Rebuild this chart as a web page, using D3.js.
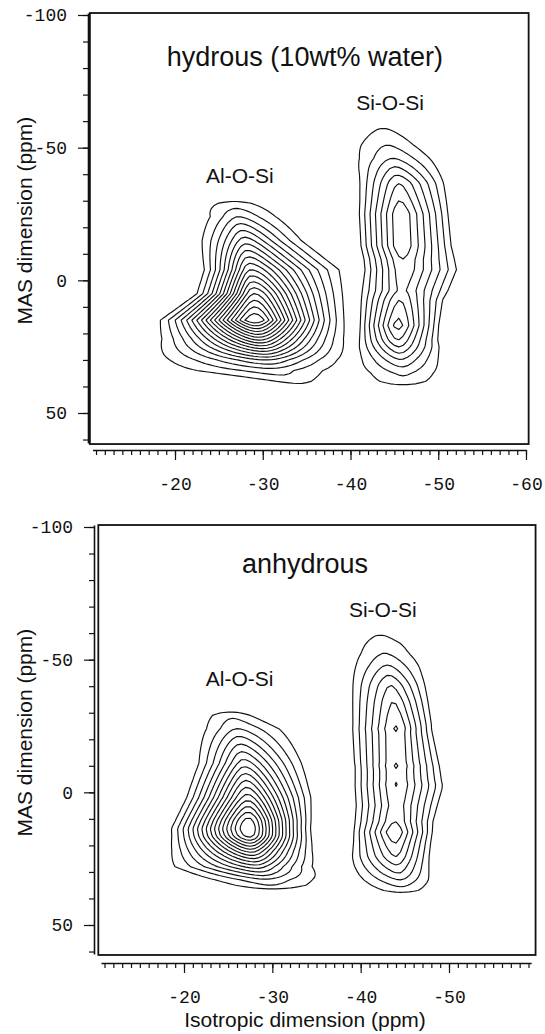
<!DOCTYPE html>
<html>
<head>
<meta charset="utf-8">
<script src="https://cdn.jsdelivr.net/npm/d3@7"></script>
<style>
  body { margin: 0; background: #fff; }
  svg { display: block; }
</style>
</head>
<body>
<svg id="chart" width="545" height="1034"></svg>
<script>
// contour levels, same for both spectra
const contourLevels = [1, 2, 3, 4, 5, 6, 7, 8, 9, 10, 11, 12, 13, 14, 15, 16, 17, 18]

const yMajorTicks = [-100, -50, 0, 50]
const yMinorTicks = [-100, -90, -80, -70, -60, -50, -40, -30, -20, -10, 0, 10, 20, 30, 40, 50, 60]
const hydrousXTicks = [-20, -30, -40, -50, -60]
const anhydrousXTicks = [-20, -30, -40, -50]

// ridge of each peak:
// [MAS ppm, peak height (in contour steps), ridge centre iso ppm, half-width toward -10, half-width toward -60]
const hydrousAlOSi = [
  [-31.5, 0, -26.5, 7, 7],
  [-29, 1.4, -26.8, 7, 7],
  [-24, 3.0, -27.2, 5.6, 7.5],
  [-15, 6.5, -28.0, 6.6, 8.6],
  [-4, 11, -28.6, 6.4, 12.3],
  [5, 15, -29.0, 7.6, 11.8],
  [15, 19, -29.1, 12.3, 11.6],
  [22, 12.5, -29.6, 13.3, 11.5],
  [30, 5, -30.5, 16, 11.5],
  [34, 2.5, -31.2, 17, 11],
  [38.5, 1.2, -34, 8, 7],
  [41, 0, -35, 5, 5]
]

const hydrousSiOSi = [
  [-61, 0, -43.5, 4, 4],
  [-57.4, 1.0, -43.7, 4.5, 4.5],
  [-51, 2.0, -44.2, 5.4, 5.4],
  [-46, 3.0, -44.8, 5.4, 6.0],
  [-39.7, 5.0, -45.3, 5.2, 6.0],
  [-36.6, 6.0, -45.5, 5.2, 6.0],
  [-30, 7.0, -45.6, 5.2, 6.1],
  [-25, 7.8, -45.7, 5.3, 6.1],
  [-13, 7.8, -45.8, 5.2, 6.4],
  [-8, 7.0, -45.9, 5.0, 6.8],
  [-4, 6.75, -46.0, 5.0, 7.0],
  [3.8, 6.2, -45.8, 5.2, 6.2],
  [7.4, 7.0, -45.6, 5.0, 5.6],
  [17, 8.4, -45.4, 4.8, 5.2],
  [22.5, 7.0, -45.4, 5.0, 5.2],
  [25.1, 6.0, -45.5, 5.2, 5.4],
  [27.5, 5.0, -45.6, 5.3, 5.4],
  [29.8, 4.0, -45.7, 5.5, 5.5],
  [32.6, 3.0, -45.9, 6.0, 5.6],
  [35, 2.2, -46.0, 6.2, 5.8],
  [38.5, 1.5, -46.0, 6.2, 6.0],
  [41, 0, -46.0, 5, 5]
]

const anhydrousAlOSi = [
  [-31.5, 0, -25.3, 5, 5],
  [-29.5, 1.6, -25.25, 5.1, 5.1],
  [-24, 3.0, -26.0, 5.6, 7.7],
  [-11, 7.5, -26.8, 6.3, 8],
  [2, 12.5, -27.2, 7.9, 8.2],
  [10.5, 16.4, -27.3, 9.2, 7.9],
  [13.6, 16.95, -27.3, 9.7, 7.8],
  [16.5, 16.4, -27.4, 9.8, 7.8],
  [22, 11.5, -27.6, 10.4, 8],
  [28, 6.5, -28.2, 11.7, 8],
  [33, 2.8, -29.3, 9.7, 8.8],
  [35.5, 1.8, -30, 8.2, 8.2],
  [37.5, 0, -30, 6, 6]
]

const anhydrousSiOSi = [
  [-62, 0, -42, 4, 4],
  [-59.4, 1.0, -42.2, 4.5, 4.5],
  [-56, 1.5, -42.5, 4.8, 5.1],
  [-52.4, 2.0, -42.7, 4.8, 5.0],
  [-48, 3.0, -43.0, 5.0, 5.0],
  [-44.2, 4.0, -43.2, 5.1, 4.8],
  [-40.4, 5.0, -43.4, 5.2, 4.7],
  [-34.2, 6.0, -43.7, 5.4, 4.6],
  [-25.5, 6.95, -44.0, 5.6, 4.6],
  [-24, 7.12, -44.0, 5.6, 4.6],
  [-22.5, 6.95, -44.0, 5.6, 4.7],
  [-11.5, 6.95, -44.0, 5.4, 5.5],
  [-10, 7.1, -44.0, 5.3, 5.6],
  [-8.5, 6.95, -44.0, 5.3, 5.7],
  [-4.5, 6.95, -44.0, 5.3, 5.9],
  [-3, 7.05, -44.0, 5.3, 6.0],
  [-1.5, 6.95, -44.0, 5.3, 6.0],
  [5, 6.6, -44.0, 5.2, 5.4],
  [11.1, 7.0, -43.9, 5.2, 4.9],
  [15, 7.9, -43.85, 5.2, 4.8],
  [19.2, 7.0, -43.9, 5.4, 4.6],
  [24.3, 6.0, -44.0, 5.8, 4.4],
  [27.4, 5.0, -44.1, 5.9, 4.4],
  [30.5, 4.0, -44.3, 5.9, 4.4],
  [33, 3.0, -44.5, 5.9, 4.5],
  [35.6, 2.0, -44.6, 5.5, 4.5],
  [37.2, 1.4, -44.6, 5, 5],
  [39, 0, -44.6, 4, 4]
]

// exponent of the fall-off across each ridge (1 = straight cone)
const hydrousRidges = [{ rows: hydrousAlOSi, fall: 1.5 }, { rows: hydrousSiOSi, fall: 1 }]
const anhydrousRidges = [{ rows: anhydrousAlOSi, fall: 1.3 }, { rows: anhydrousSiOSi, fall: 1 }]

const hydrousLabels = [
  { text: 'hydrous (10wt% water)', iso: -34.8, mas: -80.8, size: 27 },
  { text: 'Si-O-Si', iso: -44.5, mas: -64.2, size: 21 },
  { text: 'Al-O-Si', iso: -27.4, mas: -36.7, size: 21 }
]

const anhydrousLabels = [
  { text: 'anhydrous', iso: -33.7, mas: -82.8, size: 27 },
  { text: 'Si-O-Si', iso: -42.5, mas: -66.1, size: 21 },
  { text: 'Al-O-Si', iso: -26.3, mas: -40.1, size: 21 }
]

let settings = {
  sans: "'Liberation Sans', Arial, sans-serif",
  mono: "'Liberation Mono', 'Courier New', monospace",
  grid: { iso0: -9, isoStep: 0.5, nx: 107, mas0: -104, masStep: 1, ny: 171 },
  tipRound: 0.12
}

const panels = [
  {
    ridges: hydrousRidges, labels: hydrousLabels, xTicks: hydrousXTicks,
    x: d3.scaleLinear().domain([-20, -60]).range([175, 526]),
    y: d3.scaleLinear().domain([-100, 50]).range([15, 413]),
    frameIso: [-10.3, -60.3], frameMas: [-100.75, 61.7],
    axisIso: [-10.6, -60], axisMas: [-100.75, 61.3],
    yAxisX: 88, xAxisY: 450, showIsoTitle: false
  },
  {
    ridges: anhydrousRidges, labels: anhydrousLabels, xTicks: anhydrousXTicks,
    x: d3.scaleLinear().domain([-20, -50]).range([184, 449]),
    y: d3.scaleLinear().domain([-100, 50]).range([527, 925]),
    frameIso: [-10.3, -59.8], frameMas: [-100.75, 61.3],
    axisIso: [-10.6, -59.3], axisMas: [-100.75, 60.9],
    yAxisX: 94, xAxisY: 963, showIsoTitle: true
  }
]

const bisectMas = d3.bisector((k) => k[0]).right

// cross profile: fall-off with a slightly rounded tip
const eps = settings.tipRound
const edge = Math.sqrt(1 + eps * eps) - eps
const crossProfile = (u, fall) => Math.pow(Math.max(0, 1 - (Math.sqrt(u * u + eps * eps) - eps) / edge), fall)

// height of one ridge at (iso, mas): linear between the rows
const ridgeValue = (ridge, iso, mas) => {
  const rows = ridge.rows
  if (mas <= rows[0][0] || mas >= rows[rows.length - 1][0]) return 0
  const i = bisectMas(rows, mas)
  const a = rows[i - 1], b = rows[i]
  const t = (mas - a[0]) / (b[0] - a[0])
  const lerp = (k) => a[k] + (b[k] - a[k]) * t
  const dx = iso - lerp(2)
  const w = dx > 0 ? lerp(3) : lerp(4)
  return lerp(1) * crossProfile(dx / w, ridge.fall)
}

const buildField = (ridges) => {
  const g = settings.grid
  const values = new Float64Array(g.nx * g.ny)
  for (let j = 0; j < g.ny; j++) {
    const mas = g.mas0 + j * g.masStep
    for (let i = 0; i < g.nx; i++) {
      const iso = g.iso0 - i * g.isoStep
      values[j * g.nx + i] = d3.sum(ridges, (r) => ridgeValue(r, iso, mas))
    }
  }
  return values
}

const svg = d3.select('#chart')

panels.forEach((panel) => {
  const { x, y } = panel
  const g = settings.grid
  const canvas = svg.append('g')

  // contours
  const contours = d3.contours().size([g.nx, g.ny]).thresholds(contourLevels)(buildField(panel.ridges))
  const proj = d3.geoTransform({
    point: function (gx, gy) {
      this.stream.point(x(g.iso0 - (gx - 0.5) * g.isoStep), y(g.mas0 + (gy - 0.5) * g.masStep))
    }
  })
  canvas.append('g')
    .selectAll('path')
    .data(contours)
    .enter()
    .append('path')
    .attr('d', d3.geoPath(proj))
    .attr('fill', 'none')
    .attr('stroke', '#111')
    .attr('stroke-width', 1.15)
    .attr('stroke-linejoin', 'round')

  // frame
  canvas.append('rect')
    .attr('x', x(panel.frameIso[0]))
    .attr('y', y(panel.frameMas[0]))
    .attr('width', x(panel.frameIso[1]) - x(panel.frameIso[0]))
    .attr('height', y(panel.frameMas[1]) - y(panel.frameMas[0]))
    .attr('fill', 'none')
    .attr('stroke', '#111')
    .attr('stroke-width', 1.8)

  // y axis
  const yAxisScale = d3.scaleLinear().domain(panel.axisMas).range(panel.axisMas.map(y))
  canvas.append('g')
    .attr('transform', `translate(${panel.yAxisX},0)`)
    .call(d3.axisLeft(yAxisScale).tickValues(yMinorTicks).tickSize(5).tickSizeOuter(0).tickFormat(''))
  const yMajor = canvas.append('g')
    .attr('transform', `translate(${panel.yAxisX},0)`)
    .call(d3.axisLeft(yAxisScale).tickValues(yMajorTicks).tickSize(10).tickSizeOuter(0).tickPadding(11).tickFormat((d) => String(d)))
  yMajor.select('.domain').remove()

  // x axis
  const xAxisScale = d3.scaleLinear().domain(panel.axisIso).range(panel.axisIso.map(x))
  const xMinorTicks = d3.range(Math.floor(panel.axisIso[0]), panel.axisIso[1] - 0.5, -1)
  canvas.append('g')
    .attr('transform', `translate(0,${panel.xAxisY})`)
    .call(d3.axisBottom(xAxisScale).tickValues(xMinorTicks).tickSize(5).tickSizeOuter(0).tickFormat(''))
  const xMajor = canvas.append('g')
    .attr('transform', `translate(0,${panel.xAxisY})`)
    .call(d3.axisBottom(xAxisScale).tickValues(panel.xTicks).tickSize(10).tickSizeOuter(0).tickPadding(17).tickFormat((d) => String(d)))
  xMajor.select('.domain').remove()

  canvas.selectAll('.domain').attr('stroke', '#111').attr('stroke-width', 1.6)
  canvas.selectAll('.tick line').attr('stroke', '#111').attr('stroke-width', 1.2)
  canvas.selectAll('.tick text')
    .attr('font-family', settings.mono)
    .attr('font-size', 18)
    .attr('fill', '#111')

  // labels inside the frame
  canvas.selectAll('.peakLabel')
    .data(panel.labels)
    .enter()
    .append('text')
    .attr('class', 'peakLabel')
    .attr('x', (d) => x(d.iso))
    .attr('y', (d) => y(d.mas))
    .attr('text-anchor', 'middle')
    .attr('font-family', settings.sans)
    .attr('font-size', (d) => d.size)
    .attr('fill', '#111')
    .text((d) => d.text)

  // axis titles
  canvas.append('text')
    .attr('transform', `translate(32,${y(-22.5)}) rotate(-90)`)
    .attr('text-anchor', 'middle')
    .attr('font-family', settings.sans)
    .attr('font-size', 21)
    .attr('fill', '#111')
    .text('MAS dimension (ppm)')

  if (panel.showIsoTitle) {
    canvas.append('text')
      .attr('x', x(-33.7))
      .attr('y', panel.xAxisY + 64)
      .attr('text-anchor', 'middle')
      .attr('font-family', settings.sans)
      .attr('font-size', 21)
      .attr('fill', '#111')
      .text('Isotropic dimension (ppm)')
  }
})
</script>
</body>
</html>
